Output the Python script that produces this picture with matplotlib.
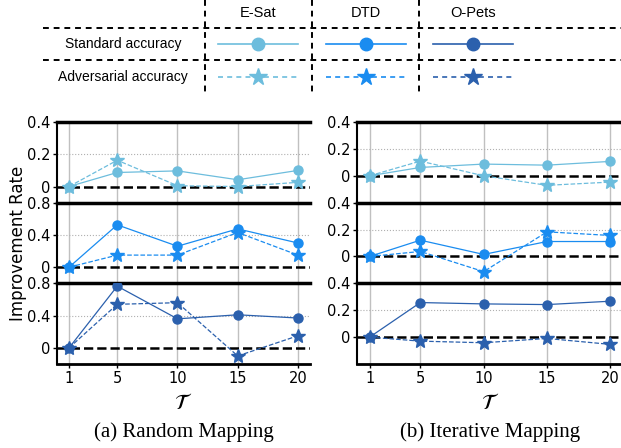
import matplotlib
matplotlib.use('Agg')
import matplotlib.pyplot as plt
import numpy as np

# values
taus = [1, 5, 10, 15, 20]
datasets = ['E-Sat', 'DTD', 'O-Pets']
colors = ['#6dbddd', '#1a8cf0', '#2b60ad']
row_labels = ['Standard accuracy', 'Adversarial accuracy']

# (a) Random Mapping
random_std = [
    [0.0, 0.087, 0.097, 0.042, 0.100],
    [0.0, 0.525, 0.260, 0.475, 0.300],
    [0.0, 0.765, 0.360, 0.410, 0.370],
]
random_adv = [
    [0.0, 0.163, 0.005, 0.000, 0.026],
    [0.0, 0.150, 0.150, 0.430, 0.150],
    [0.0, 0.540, 0.560, -0.100, 0.150],
]
random_ylims = [(-0.1, 0.4), (-0.2, 0.8), (-0.2, 0.8)]
random_yticks = [[0, 0.2, 0.4], [0, 0.4, 0.8], [0, 0.4, 0.8]]
random_yticklabels = [['0', '0.2', '0.4'], ['0', '0.4', '0.8'], ['0', '0.4', '0.8']]

# (b) Iterative Mapping
iter_std = [
    [0.0, 0.062, 0.087, 0.079, 0.107],
    [0.0, 0.121, 0.015, 0.111, 0.111],
    [0.0, 0.257, 0.247, 0.242, 0.267],
]
iter_adv = [
    [0.0, 0.109, 0.000, -0.071, -0.047],
    [0.0, 0.037, -0.113, 0.183, 0.156],
    [0.0, -0.030, -0.042, -0.010, -0.054],
]
iter_ylims = [(-0.2, 0.4), (-0.2, 0.4), (-0.2, 0.4)]
iter_yticks = [[0, 0.2, 0.4]] * 3
iter_yticklabels = [['0', '0.2', '0.4']] * 3

W, H = 621, 448
fig = plt.figure(figsize=(W / 100, H / 100), dpi=100)


def draw_panel(x0, x1, std, adv, ylims, yticks, yticklabels, caption, ylabel=False):
    top, bottom = 122, 364
    h = (bottom - top) / 3
    axes = []
    for i in range(3):
        ax = fig.add_axes([x0 / W, 1 - (top + (i + 1) * h) / H, (x1 - x0) / W, h / H])
        c = colors[i]
        for t in taus:
            ax.axvline(t, color='#c0c0c0', lw=1, zorder=0)
        ax.axhline(yticks[i][1], color='#b0b0b0', lw=0.8, ls=':', zorder=0)
        ax.axhline(0, color='black', lw=1.8, ls='--', zorder=1)
        ax.plot(taus, std[i], color=c, lw=0.9, marker='o', ms=6.5, zorder=3)
        ax.plot(taus, adv[i], color=c, lw=0.9, ls='--', marker='*', ms=10, zorder=3)
        ax.set_xlim(0, 21)
        ax.set_ylim(*ylims[i])
        ax.set_yticks(yticks[i])
        ax.set_yticklabels(yticklabels[i])
        ax.set_xticks(taus)
        ax.spines['right'].set_visible(False)
        ax.spines['top'].set_linewidth(2.5)
        ax.spines['left'].set_linewidth(1.5)
        ax.tick_params(labelsize=10.5, length=3, width=1, pad=2)
        if i < 2:
            ax.spines['bottom'].set_visible(False)
            ax.tick_params(axis='x', bottom=False, labelbottom=False)
        else:
            ax.spines['bottom'].set_linewidth(2)
            ax.set_xlabel(r'$\mathcal{T}$', fontsize=16, labelpad=5)
        axes.append(ax)
    fig.text((x0 + x1) / 2 / W, 1 - 432 / H, caption, ha='center', va='center',
             fontsize=15, family='Liberation Serif')
    if ylabel:
        fig.text(18 / W, 1 - 243 / H, 'Improvement Rate', rotation=90,
                 ha='center', va='center', fontsize=12)
    return axes


draw_panel(57, 310, random_std, random_adv, random_ylims, random_yticks,
           random_yticklabels, '(a) Random Mapping', ylabel=True)
draw_panel(357, 623, iter_std, iter_adv, iter_ylims, iter_yticks,
           iter_yticklabels, '(b) Iterative Mapping')

# legend drawn as a dashed table at the top
leg = fig.add_axes([0, 0, 1, 1], zorder=-1)
leg.set_xlim(0, W)
leg.set_ylim(H, 0)
leg.axis('off')
tbl = dict(color='black', lw=1.4, ls=(0, (3, 2.5)))
for y in [28, 60]:
    leg.plot([43, W], [y, y], **tbl)
for x in [205, 312, 419]:
    leg.plot([x, x], [0, 92], **tbl)

col_x = [258, 366, 473]
row_y = [44, 77]
for cx, name, c in zip(col_x, datasets, colors):
    leg.text(cx, 13, name, ha='center', va='center', fontsize=10.5, family='Liberation Sans')
    leg.plot([cx - 40, cx + 40], [row_y[0]] * 2, color=c, lw=1.2)
    leg.plot([cx], [row_y[0]], color=c, marker='o', ms=9)
    leg.plot([cx - 40, cx + 40], [row_y[1]] * 2, color=c, lw=1.2, ls=(0, (3, 2.5)))
    leg.plot([cx], [row_y[1]], color=c, marker='*', ms=13)
for ry, lab in zip(row_y, row_labels):
    leg.text(123, ry, lab, ha='center', va='center', fontsize=10, family='Liberation Sans')

fig.savefig('out.png', dpi=100)
